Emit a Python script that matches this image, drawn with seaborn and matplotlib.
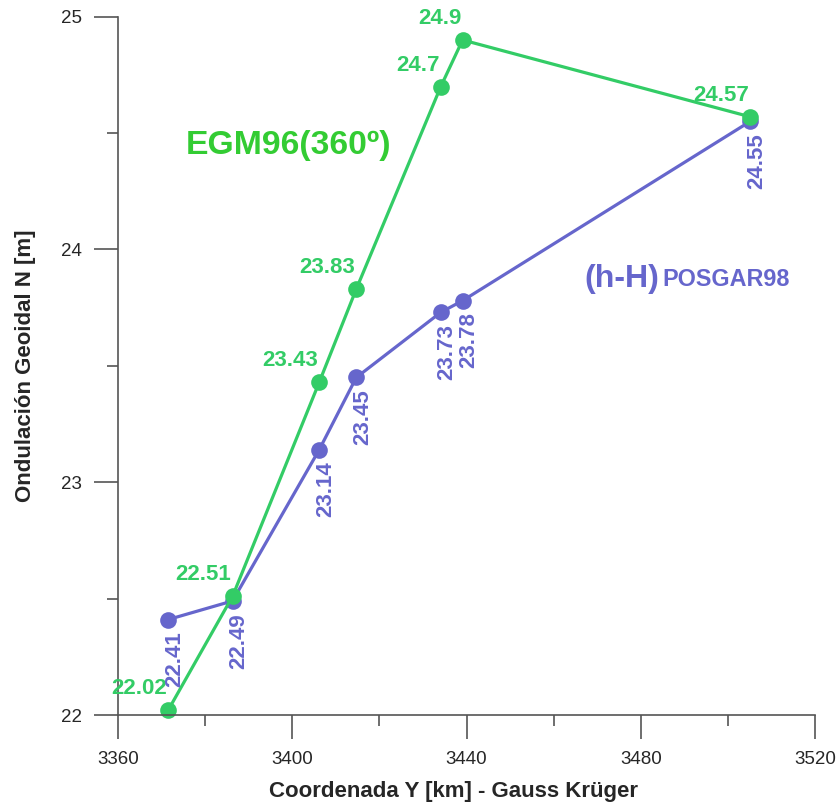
import numpy as np
import pandas as pd
import seaborn as sns
import matplotlib.pyplot as plt

## Data
coord_y = [3371.5, 3386.3, 3406.2, 3414.7, 3434.1, 3439.1, 3505.1]
egm96 = [22.02, 22.51, 23.43, 23.83, 24.70, 24.90, 24.57]
posgar = [22.41, 22.49, 23.14, 23.45, 23.73, 23.78, 24.55]

green = '#33cc66'
blue = '#6666cc'

sns.set_style('white')
plt.rcParams['font.family'] = ['Liberation Sans', 'DejaVu Sans']

fig = plt.figure(figsize=(8.38, 8.07), dpi=100)
ax = fig.add_axes([0.1408, 0.114, 0.8318, 0.8653])

sns.lineplot(x=coord_y, y=posgar, sort=False, color=blue, lw=2.3,
             marker='o', markersize=12, markeredgewidth=0, clip_on=False, ax=ax)
sns.lineplot(x=coord_y, y=egm96, sort=False, color=green, lw=2.3,
             marker='o', markersize=12, markeredgewidth=0, clip_on=False, ax=ax)

## value labels
for x, v in zip(coord_y, egm96):
    ax.annotate(f'{v:g}', (x, v), xytext=(-1, 11.5), textcoords='offset points',
                ha='right', va='baseline', color=green, fontsize=16, fontweight='bold')
for x, v in zip(coord_y, posgar):
    ax.annotate(f'{v:g}', (x, v), xytext=(4.5, -8.5), textcoords='offset points',
                ha='center', va='top', rotation=90, color=blue, fontsize=16,
                fontweight='bold')

ax.text(3375.6, 24.41, 'EGM96(360º)', color='#33cc33', fontsize=24.3,
        fontweight='bold', va='baseline')
t = ax.text(3467.1, 23.839, '(h-H)', color=blue, fontsize=23,
            fontweight='bold', va='baseline')
ax.annotate('POSGAR98', xycoords=t, xy=(1, 0), xytext=(2, 1.8),
            textcoords='offset points', color=blue, fontsize=16.8,
            fontweight='bold', va='bottom')

ax.set_xlim(3360, 3520)
ax.set_ylim(22, 25)
ax.set_xticks([3360, 3400, 3440, 3480, 3520])
ax.set_xticks([3380, 3420, 3460, 3500], minor=True)
ax.set_yticks([22, 23, 24, 25])
ax.set_yticks([22.5, 23.5, 24.5], minor=True)

sns.despine(ax=ax)
for s in ['left', 'bottom']:
    ax.spines[s].set_color('#555555')
    ax.spines[s].set_linewidth(1.2)
ax.tick_params(which='major', length=17, width=1.2, color='#555555',
               labelsize=13.5, pad=9, direction='out', bottom=True, left=True)
ax.tick_params(which='minor', length=8, width=1.2, color='#555555',
               direction='out', bottom=True, left=True)

ax.set_xlabel('Coordenada Y [km] - Gauss Krüger', fontsize=16,
              fontweight='bold')
ax.set_ylabel('Ondulación Geoidal N [m]', fontsize=16,
              fontweight='bold', labelpad=18)
ax.xaxis.label.set_va('baseline')
ax.xaxis.set_label_coords(0.482, -0.117)

fig.savefig('out.png', dpi=100)
